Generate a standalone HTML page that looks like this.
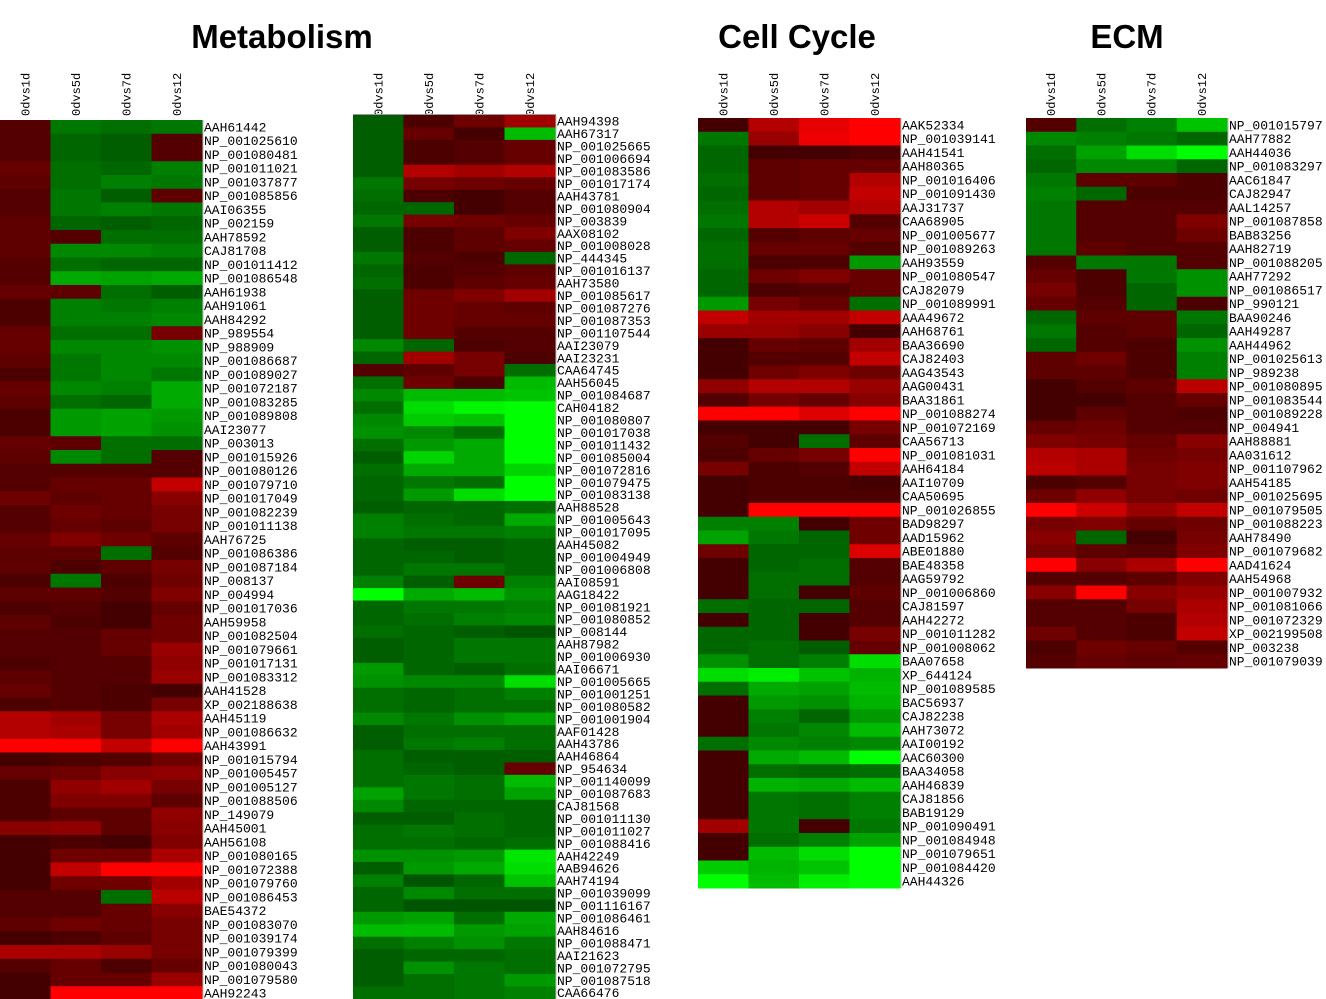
<!DOCTYPE html>
<html><head><meta charset="utf-8"><style>
html,body{margin:0;padding:0;background:#fff;}
svg{display:block;}
</style></head><body>
<svg id="chart" width="1326" height="999" viewBox="0 0 1326 999" xmlns="http://www.w3.org/2000/svg">
<text x="282" y="48" text-anchor="middle" font-family="Liberation Sans, sans-serif" font-weight="bold" font-size="33">Metabolism</text>
<text x="797" y="48" text-anchor="middle" font-family="Liberation Sans, sans-serif" font-weight="bold" font-size="33">Cell Cycle</text>
<text x="1127" y="48" text-anchor="middle" font-family="Liberation Sans, sans-serif" font-weight="bold" font-size="33">ECM</text>
</svg>
<script>
const conditions = ["0dvs1d","0dvs5d","0dvs7d","0dvs12"];

const metaLeftGenes = ["AAH61442","NP_001025610","NP_001080481","NP_001011021","NP_001037877","NP_001085856","AAI06355","NP_002159","AAH78592","CAJ81708","NP_001011412","NP_001086548","AAH61938","AAH91061","AAH84292","NP_989554","NP_988909","NP_001086687","NP_001089027","NP_001072187","NP_001083285","NP_001089808","AAI23077","NP_003013","NP_001015926","NP_001080126","NP_001079710","NP_001017049","NP_001082239","NP_001011138","AAH76725","NP_001086386","NP_001087184","NP_008137","NP_004994","NP_001017036","AAH59958","NP_001082504","NP_001079661","NP_001017131","NP_001083312","AAH41528","XP_002188638","AAH45119","NP_001086632","AAH43991","NP_001015794","NP_001005457","NP_001005127","NP_001088506","NP_149079","AAH45001","AAH56108","NP_001080165","NP_001072388","NP_001079760","NP_001086453","BAE54372","NP_001083070","NP_001039174","NP_001079399","NP_001080043","NP_001079580","AAH92243"];
const metaLeftValues = [
[1.0,-1.4,-1.3,-1.4],[1.0,-1.2,-1.1,1.0],[1.0,-1.2,-1.1,1.0],[1.2,-1.3,-1.2,-1.5],[1.1,-1.3,-1.5,-1.4],[1.0,-1.4,-1.1,1.1],[1.0,-1.4,-1.5,-1.4],[1.1,-1.2,-1.1,-1.2],
[1.1,1.0,-1.3,-1.3],[1.1,-1.6,-1.6,-1.5],[1.0,-1.3,-1.2,-1.2],[1.0,-2.0,-1.9,-2.0],[1.2,1.1,-1.3,-1.1],[0.9,-1.5,-1.4,-1.5],[0.9,-1.5,-1.5,-1.6],[1.2,-1.3,-1.3,1.4],
[1.2,-1.6,-1.6,-1.7],[1.1,-1.4,-1.6,-1.6],[0.9,-1.4,-1.6,-1.4],[1.2,-1.6,-1.5,-2.0],[1.1,-1.3,-1.2,-2.0],[0.9,-1.8,-1.9,-1.8],[0.9,-1.8,-1.9,-1.7],[1.2,1.1,-1.3,-1.3],
[1.1,-1.6,-1.3,1.0],[1.0,1.0,1.0,1.0],[1.0,1.2,1.2,2.3],[1.3,1.1,1.2,1.6],[1.0,1.3,1.2,1.4],[1.0,1.2,1.1,1.4],[1.2,1.5,1.3,1.1],[1.1,1.1,-1.3,1.0],
[1.1,0.9,1.1,1.4],[0.9,-1.4,0.9,1.3],[1.1,1.1,1.0,1.5],[0.9,1.0,0.8,1.2],[1.1,0.9,0.8,1.3],[1.0,1.0,1.2,1.3],[1.0,1.0,1.2,1.8],[0.9,1.0,1.0,1.7],
[1.1,1.0,1.0,1.8],[1.2,1.0,0.9,0.8],[0.9,1.0,0.9,1.4],[2.1,1.9,1.4,2.0],[2.1,2.0,1.4,1.9],[3.0,3.0,2.3,3.0],[0.8,0.9,1.0,1.3],[1.2,1.3,1.6,1.7],
[0.9,1.7,1.9,1.4],[0.9,1.5,1.5,1.1],[0.9,1.1,1.1,1.7],[1.6,1.7,1.1,1.6],[0.8,0.9,0.8,1.5],[0.8,1.3,1.3,2.0],[0.8,2.3,3.0,3.0],[0.8,1.3,1.3,1.9],
[1.0,1.0,-1.3,2.2],[1.0,1.0,1.2,1.6],[1.1,1.3,1.2,1.4],[0.8,0.9,1.1,1.4],[2.0,2.0,1.8,1.4],[1.0,1.2,0.9,1.2],[0.8,1.2,1.2,1.8],[0.8,3.0,3.0,3.0]];

const metaRightGenes = ["AAH94398","AAH67317","NP_001025665","NP_001006694","NP_001083586","NP_001017174","AAH43781","NP_001080904","NP_003839","AAX08102","NP_001008028","NP_444345","NP_001016137","AAH73580","NP_001085617","NP_001087276","NP_001087353","NP_001107544","AAI23079","AAI23231","CAA64745","AAH56045","NP_001084687","CAH04182","NP_001080807","NP_001017038","NP_001011432","NP_001085004","NP_001072816","NP_001079475","NP_001083138","AAH88528","NP_001005643","NP_001017095","AAH45082","NP_001004949","NP_001006808","AAI08591","AAG18422","NP_001081921","NP_001080852","NP_008144","AAH87982","NP_001006930","AAI06671","NP_001005665","NP_001001251","NP_001080582","NP_001001904","AAF01428","AAH43786","AAH46864","NP_954634","NP_001140099","NP_001087683","CAJ81568","NP_001011130","NP_001011027","NP_001088416","AAH42249","AAB94626","AAH74194","NP_001039099","NP_001116167","NP_001086461","AAH84616","NP_001088471","AAI21623","NP_001072795","NP_001087518","CAA66476"];
const metaRightValues = [
[-1.1,0.9,1.3,1.9],[-1.1,1.2,0.8,-2.2],[-1.1,0.9,1.0,1.2],[-1.1,0.9,1.0,1.2],[-1.1,2.1,1.9,2.1],[-1.4,1.4,1.3,1.2],[-1.3,0.9,0.8,1.0],[-1.2,-1.2,0.8,1.0],
[-1.4,1.4,1.3,1.2],[-1.1,0.9,1.1,1.5],[-1.1,0.9,1.1,1.2],[-1.4,1.0,0.9,-1.2],[-1.2,0.9,1.0,1.1],[-1.3,0.9,1.1,1.2],[-1.1,1.3,1.5,1.9],[-1.1,1.3,1.2,1.1],
[-1.1,1.3,1.2,1.2],[-1.1,1.3,1.0,1.0],[-1.6,-1.2,0.9,1.0],[-1.2,1.9,1.4,0.9],[1.0,1.1,1.4,-1.3],[-1.3,1.3,0.9,-2.2],[-1.6,-2.2,-2.2,-2.3],[-1.3,-2.6,-2.9,-3.0],
[-1.6,-2.4,-2.3,-3.0],[-1.7,-1.6,-1.3,-3.0],[-1.3,-1.8,-2.0,-3.0],[-1.1,-2.5,-2.0,-3.0],[-1.3,-2.0,-2.0,-2.5],[-1.2,-1.4,-1.3,-3.0],[-1.2,-1.8,-2.6,-3.0],[-1.1,-1.2,-1.2,-1.3],
[-1.5,-1.3,-1.2,-2.0],[-1.5,-1.4,-1.4,-1.5],[-1.2,-1.1,-1.1,-1.2],[-1.2,-1.2,-1.1,-1.2],[-1.2,-1.4,-1.4,-1.2],[-1.5,-1.1,1.3,-1.5],[-3.0,-2.0,-2.2,-1.7],[-1.2,-1.4,-1.4,-1.5],
[-1.2,-1.3,-1.5,-1.6],[-1.3,-1.2,-1.1,-1.0],[-1.1,-1.2,-1.4,-1.4],[-1.1,-1.2,-1.4,-1.4],[-1.8,-1.2,-1.1,-1.3],[-1.7,-1.6,-1.6,-2.6],[-1.3,-1.2,-1.3,-1.5],[-1.3,-1.2,-1.3,-1.3],
[-1.6,-1.4,-1.7,-1.9],[-1.1,-1.3,-1.3,-1.3],[-1.1,-1.4,-1.5,-1.3],[-1.3,-1.1,-1.1,-1.1],[-1.3,-1.2,-1.1,1.2],[-1.3,-1.4,-1.3,-2.2],[-1.9,-1.4,-1.3,-1.9],[-1.6,-1.2,-1.2,-1.2],
[-1.1,-1.1,-1.3,-1.2],[-1.3,-1.4,-1.3,-1.2],[-1.3,-1.3,-1.2,-1.3],[-1.7,-1.7,-1.8,-2.7],[-1.1,-1.8,-2.0,-2.6],[-1.5,-1.0,-1.2,-2.3],[-1.2,-1.6,-1.3,-1.3],[-1.2,-1.0,-1.0,-1.0],
[-1.8,-1.9,-1.3,-2.0],[-2.2,-2.2,-1.8,-1.9],[-1.3,-1.5,-1.7,-1.4],[-1.1,-1.2,-1.2,-1.3],[-1.1,-1.7,-1.4,-1.3],[-1.1,-1.3,-1.4,-1.8],[-1.3,-1.3,-1.4,-1.5]];

const cellGenes = ["AAK52334","NP_001039141","AAH41541","AAH80365","NP_001016406","NP_001091430","AAJ31737","CAA68905","NP_001005677","NP_001089263","AAH93559","NP_001080547","CAJ82079","NP_001089991","AAA49672","AAH68761","BAA36690","CAJ82403","AAG43543","AAG00431","BAA31861","NP_001088274","NP_001072169","CAA56713","NP_001081031","AAH64184","AAI10709","CAA50695","NP_001026855","BAD98297","AAD15962","ABE01880","BAE48358","AAG59792","NP_001006860","CAJ81597","AAH42272","NP_001011282","NP_001008062","BAA07658","XP_644124","NP_001089585","BAC56937","CAJ82238","AAH73072","AAI00192","AAC60300","BAA34058","AAH46839","CAJ81856","BAB19129","NP_001090491","NP_001084948","NP_001079651","NP_001084420","AAH44326"];
const cellValues = [
[0.8,2.1,2.7,3.0],[-1.4,1.8,2.8,3.0],[-1.2,0.8,0.8,0.9],[-1.2,1.1,1.2,1.2],[-1.3,1.1,1.2,2.1],[-1.2,1.1,1.2,2.3],[-1.3,2.1,1.9,2.1],[-1.4,2.1,2.4,1.0],
[-1.2,1.0,1.1,1.2],[-1.3,1.2,1.2,1.0],[-1.3,0.9,0.9,-1.8],[-1.2,1.3,1.5,1.2],[-1.2,0.9,1.0,1.2],[-1.8,1.4,1.2,-1.3],[2.3,1.9,1.9,2.3],[1.8,1.8,1.6,0.8],
[0.8,1.2,1.1,1.9],[0.8,1.0,1.0,2.3],[0.8,1.3,1.5,1.3],[1.7,2.1,2.1,1.8],[1.0,1.4,1.2,1.6],[3.0,3.0,2.6,3.0],[0.8,0.8,0.8,1.4],[1.0,0.8,-1.3,1.1],
[0.9,1.2,1.4,3.0],[1.4,0.9,1.0,2.3],[0.8,0.9,0.9,0.8],[0.8,0.9,0.9,0.9],[0.8,3.0,3.0,3.0],[-1.5,-1.5,0.8,1.3],[-1.9,-1.4,-1.2,1.3],[1.3,-1.2,-1.2,2.6],
[0.8,-1.2,-1.3,1.0],[0.8,-1.3,-1.3,1.0],[0.8,-1.3,0.8,1.1],[-1.3,-1.2,-1.2,1.0],[0.8,-1.2,0.8,1.0],[-1.2,-1.2,0.8,1.4],[-1.2,-1.3,-1.1,1.2],[-1.7,-1.3,-1.5,-2.6],
[-2.6,-2.8,-2.3,-2.1],[-1.3,-2.0,-1.9,-2.2],[0.8,-1.8,-1.7,-2.1],[0.8,-1.5,-1.2,-1.8],[0.8,-1.4,-1.6,-2.2],[-1.3,-1.6,-1.5,-1.6],[0.8,-2.0,-2.2,-3.0],[0.8,-1.3,-1.2,-1.3],
[0.8,-2.1,-2.0,-2.2],[0.8,-1.4,-1.3,-1.5],[0.8,-1.4,-1.3,-1.5],[1.9,-1.4,0.8,-1.4],[0.8,-1.3,-1.5,-1.9],[0.8,-2.2,-2.6,-3.0],[-2.4,-2.1,-2.3,-3.0],[-3.0,-2.2,-2.8,-3.0]];

const ecmGenes = ["NP_001015797","AAH77882","AAH44036","NP_001083297","AAC61847","CAJ82947","AAL14257","NP_001087858","BAB83256","AAH82719","NP_001088205","AAH77292","NP_001086517","NP_990121","BAA90246","AAH49287","AAH44962","NP_001025613","NP_989238","NP_001080895","NP_001083544","NP_001089228","NP_004941","AAH88881","AA031612","NP_001107962","AAH54185","NP_001025695","NP_001079505","NP_001088223","AAH78490","NP_001079682","AAD41624","AAH54968","NP_001007932","NP_001081066","NP_001072329","XP_002199508","NP_003238","NP_001079039"];
const ecmValues = [
[1.0,-1.3,-1.5,-2.3],[-1.6,-1.5,-1.4,-1.2],[-1.3,-1.9,-2.6,-3.0],[-1.2,-1.6,-1.6,-1.2],[-1.4,1.1,1.1,0.9],[-1.5,-1.2,0.9,0.9],[-1.4,1.0,1.0,1.0],[-1.4,1.0,1.0,1.5],
[-1.4,1.0,1.0,1.3],[-1.4,1.1,1.0,1.0],[1.0,-1.4,-1.4,1.0],[1.2,0.9,-1.4,-1.7],[1.4,0.9,-1.2,-1.7],[1.2,1.0,-1.2,0.9],[-1.2,1.1,1.1,-1.4],[-1.4,1.0,1.1,-1.2],
[-1.2,1.0,0.9,-1.7],[1.1,1.3,0.9,-1.5],[1.1,1.1,0.9,-1.5],[0.8,1.0,1.1,2.2],[0.8,0.8,1.0,1.2],[0.8,1.1,1.0,0.9],[1.2,1.3,1.0,1.0],[1.5,1.4,1.2,1.6],
[2.1,2.0,1.3,1.4],[2.2,2.0,1.4,1.5],[0.9,1.0,1.4,1.5],[1.3,1.7,1.4,1.3],[3.0,2.4,1.8,2.3],[1.4,1.5,1.2,1.3],[1.6,-1.2,0.8,1.4],[1.4,1.1,1.0,1.5],
[3.0,1.6,2.0,3.0],[1.0,1.0,1.1,1.5],[1.6,3.0,1.6,1.8],[1.0,1.0,1.4,2.0],[1.0,1.0,0.9,2.1],[1.3,1.0,0.9,2.3],[0.9,1.3,1.2,1.0],[1.0,1.2,1.1,1.2]];

const NS = "http://www.w3.org/2000/svg";
const svg = document.getElementById("chart");
function colorFor(v){
  const c = Math.min(255, Math.round(Math.abs(v) / 3 * 255));
  return v >= 0 ? `rgb(${c},0,0)` : `rgb(0,${c},0)`;
}
function drawPanel(name, genes, values, x0, width, top, rowH, showHeaders){
  const g = document.createElementNS(NS, "g");
  
  
  svg.appendChild(g);
  const colW = width / conditions.length;
  const xScale = j => x0 + j * colW;
  const yScale = i => top + i * rowH;
  conditions.forEach((c, j) => {
    const t = document.createElementNS(NS, "text");
    const cx = xScale(j) + colW / 2 + 4;
    t.setAttribute("x", cx); t.setAttribute("y", 116);
    t.setAttribute("transform", `rotate(-90 ${cx} 116)`);
    t.setAttribute("font-family", "Liberation Mono, monospace");
    t.setAttribute("font-size", "12");
    t.textContent = c;
    
    
    g.appendChild(t);
  });
  values.forEach((row, i) => {
    row.forEach((v, j) => {
      const r = document.createElementNS(NS, "rect");
      r.setAttribute("x", xScale(j)); r.setAttribute("y", yScale(i));
      r.setAttribute("width", colW + 0.5); r.setAttribute("height", rowH + 0.5);
      r.setAttribute("fill", colorFor(v));
      
      
      g.appendChild(r);
    });
    const t = document.createElementNS(NS, "text");
    t.setAttribute("x", x0 + width + 2);
    t.setAttribute("y", yScale(i) + rowH / 2 + 4.5);
    t.setAttribute("font-family", "Liberation Mono, monospace");
    t.setAttribute("font-size", "13");
    t.textContent = genes[i];
    
    
    g.appendChild(t);
  });
  const line = document.createElementNS(NS, "line");
  line.setAttribute("x1", x0 + width + 1); line.setAttribute("x2", x0 + width + 1);
  line.setAttribute("y1", top); line.setAttribute("y2", yScale(values.length));
  line.setAttribute("stroke", "#bbb"); line.setAttribute("stroke-width", "1");
  
  
  g.appendChild(line);
}
drawPanel("metabolism-left", metaLeftGenes, metaLeftValues, 0, 202, 120, 13.75);
drawPanel("metabolism-right", metaRightGenes, metaRightValues, 353, 202, 115, 12.45);
drawPanel("cell-cycle", cellGenes, cellValues, 698, 202, 118, 13.75);
drawPanel("ecm", ecmGenes, ecmValues, 1026, 201, 118, 13.75);
const topLine = document.createElementNS(NS, "line");
topLine.setAttribute("x1", 353); topLine.setAttribute("x2", 556);
topLine.setAttribute("y1", 114.5); topLine.setAttribute("y2", 114.5);
topLine.setAttribute("stroke", "#999");


svg.appendChild(topLine);
</script>
</body></html>
